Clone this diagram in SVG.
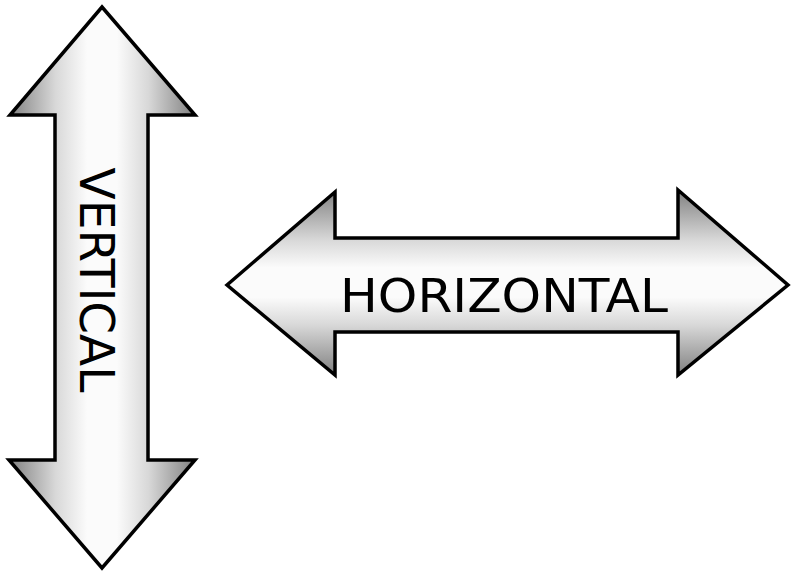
<svg xmlns="http://www.w3.org/2000/svg" width="794" height="576" viewBox="0 0 794 576">
  <defs>
    <linearGradient id="gv" x1="0" y1="0" x2="1" y2="0">
      <stop offset="0" stop-color="#808080"/>
      <stop offset="0.25" stop-color="#d8d8d8"/>
      <stop offset="0.42" stop-color="#fbfbfb"/>
      <stop offset="0.58" stop-color="#fbfbfb"/>
      <stop offset="0.75" stop-color="#d8d8d8"/>
      <stop offset="1" stop-color="#808080"/>
    </linearGradient>
    <linearGradient id="gh" x1="0" y1="0" x2="0" y2="1">
      <stop offset="0" stop-color="#808080"/>
      <stop offset="0.27" stop-color="#d8d8d8"/>
      <stop offset="0.42" stop-color="#fbfbfb"/>
      <stop offset="0.58" stop-color="#fbfbfb"/>
      <stop offset="0.73" stop-color="#d8d8d8"/>
      <stop offset="1" stop-color="#808080"/>
    </linearGradient>
    <style>
      .arrow { stroke: #000; stroke-width: 3.5; stroke-linejoin: miter; }
      .lbl { font-family: "DejaVu Sans", "Liberation Sans", sans-serif; fill: #000; }
    </style>
  </defs>
  <rect width="794" height="576" fill="#fff"/>
  <g id="vertical">
    <path class="arrow" fill="url(#gv)" d="M102,7 L195,115 L148,115 L148,460 L195,460 L102,568 L9,460 L55,460 L55,115 L10,115 Z"/>
    <text class="lbl" transform="translate(80,280) rotate(90)" text-anchor="middle" font-size="48" textLength="225" lengthAdjust="spacingAndGlyphs">VERTICAL</text>
  </g>
  <g id="horizontal">
    <path class="arrow" fill="url(#gh)" d="M227,285 L335,192 L335,238 L678,238 L678,190 L788,285 L678,375 L678,332 L335,332 L335,375 Z"/>
    <text class="lbl" x="504" y="312" text-anchor="middle" font-size="46" textLength="328" lengthAdjust="spacingAndGlyphs">HORIZONTAL</text>
  </g>
</svg>
